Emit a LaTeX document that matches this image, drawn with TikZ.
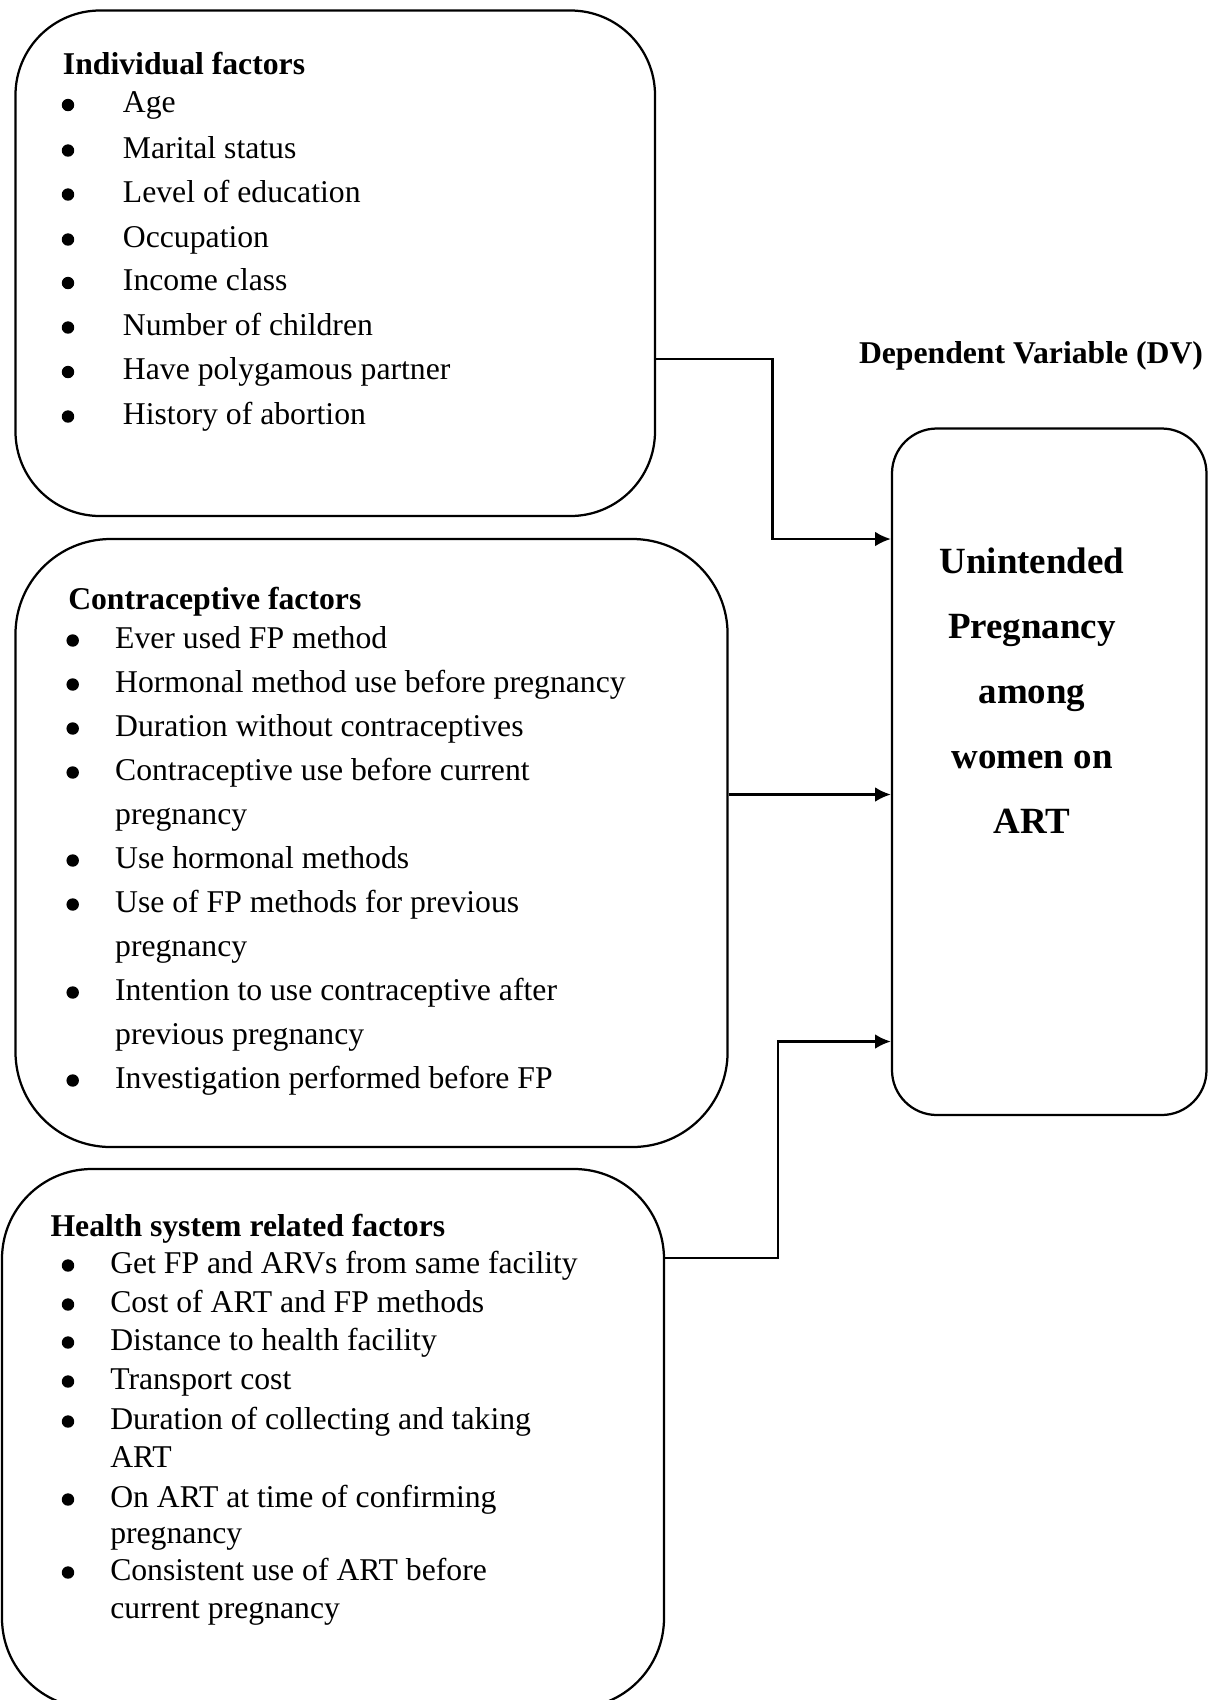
\documentclass[tikz,border=0pt]{standalone}
\usepackage{fontspec}
\setmainfont{Liberation Serif}
\usetikzlibrary{arrows.meta,fit}

\tikzset{
  factorbox/.style={draw, line width=0.85pt, rounded corners=#1, inner sep=0pt},
  txt/.style={anchor=base west, inner sep=0pt, font=\fontsize{12}{14}\selectfont},
  headtxt/.style={txt, font=\bfseries\fontsize{12}{14}\selectfont},
  bull/.style={circle, fill, inner sep=0pt, minimum size=4.7pt},
  dvtxt/.style={anchor=base, inner sep=0pt, font=\bfseries\fontsize{14}{16}\selectfont}
}

\begin{document}
\begin{tikzpicture}[x=0.0133cm, y=-0.0133cm, >={Latex[length=6pt,width=5.6pt]}, line width=0.95pt]
\useasboundingbox (0,0) rectangle (1209,1700);

\node[factorbox=32pt, fit={(15.5,10.5) (655,516)}] (indiv) {};
\node[headtxt] (indivhead) at (61.7,74) {Individual factors};
\node[bull] (ib1) at (68,105) {};
\node[txt] (i1) at (121.7,112.5) {Age};
\node[bull] (ib2) at (68,150.5) {};
\node[txt] (i2) at (121.7,158) {Marital status};
\node[bull] (ib3) at (68,194.5) {};
\node[txt] (i3) at (121.7,202) {Level of education};
\node[bull] (ib4) at (68,239.5) {};
\node[txt] (i4) at (121.7,247) {Occupation};
\node[bull] (ib5) at (68,283) {};
\node[txt] (i5) at (121.7,290.5) {Income class};
\node[bull] (ib6) at (68,327.5) {};
\node[txt] (i6) at (121.7,335) {Number of children};
\node[bull] (ib7) at (68,372) {};
\node[txt] (i7) at (121.7,379.5) {Have polygamous partner};
\node[bull] (ib8) at (68,416.5) {};
\node[txt] (i8) at (121.7,424) {History of abortion};

\node[factorbox=36pt, fit={(15.5,539) (727.6,1147)}] (contra) {};
\node[headtxt] (contrahead) at (67,609) {Contraceptive factors};
\node[bull] (cb1) at (72.7,640.5) {};
\node[txt] (c1) at (113.9,648) {Ever used FP method};
\node[bull] (cb2) at (72.7,684.5) {};
\node[txt] (c2) at (113.9,692) {Hormonal method use before pregnancy};
\node[bull] (cb3) at (72.7,728.5) {};
\node[txt] (c3) at (113.9,736) {Duration without contraceptives};
\node[bull] (cb4) at (72.7,772.5) {};
\node[txt] (c4) at (113.9,780) {Contraceptive use before current};
\node[txt] (c4b) at (113.9,824) {pregnancy};
\node[bull] (cb5) at (72.7,860.5) {};
\node[txt] (c5) at (113.9,868) {Use hormonal methods};
\node[bull] (cb6) at (72.7,904.5) {};
\node[txt] (c6) at (113.9,912) {Use of FP methods for previous};
\node[txt] (c6b) at (113.9,956) {pregnancy};
\node[bull] (cb7) at (72.7,992.5) {};
\node[txt] (c7) at (113.9,1000) {Intention to use contraceptive after};
\node[txt] (c7b) at (113.9,1044) {previous pregnancy};
\node[bull] (cb8) at (72.7,1080.5) {};
\node[txt] (c8) at (113.9,1088) {Investigation performed before FP};

\node[factorbox=34pt, fit={(2,1169) (664,1708)}] (health) {};
\node[headtxt] (healthhead) at (49.3,1236) {Health system related factors};
\node[bull] (hb1) at (68,1265.5) {};
\node[txt] (h1) at (109,1273) {Get FP and ARVs from same facility};
\node[bull] (hb2) at (68,1304.5) {};
\node[txt] (h2) at (109,1312) {Cost of ART and FP methods};
\node[bull] (hb3) at (68,1342.5) {};
\node[txt] (h3) at (109,1350) {Distance to health facility};
\node[bull] (hb4) at (68,1381.5) {};
\node[txt] (h4) at (109,1389) {Transport cost};
\node[bull] (hb5) at (68,1421.5) {};
\node[txt] (h5) at (109,1429) {Duration of collecting and taking};
\node[txt] (h5b) at (109,1467) {ART};
\node[bull] (hb6) at (68,1499.5) {};
\node[txt] (h6) at (109,1507) {On ART at time of confirming};
\node[txt] (h6b) at (109,1543) {pregnancy};
\node[bull] (hb7) at (68,1572.5) {};
\node[txt] (h7) at (109,1580) {Consistent use of ART before};
\node[txt] (h7b) at (109,1618) {current pregnancy};

\node[anchor=base, inner sep=0pt, font=\bfseries\fontsize{12}{14}\selectfont] (dvhead) at (1031,363) {Dependent Variable (DV)};
\node[factorbox=17pt, fit={(892,428.5) (1206.5,1115)}] (dv) {};
\node[dvtxt] (dv1) at (1032,573) {Unintended};
\node[dvtxt] (dv2) at (1032,638) {Pregnancy};
\node[dvtxt] (dv3) at (1032,703) {among};
\node[dvtxt] (dv4) at (1032,768) {women on};
\node[dvtxt] (dv5) at (1032,833) {ART};

\coordinate (a1) at (772.5,359);
\coordinate (a1e) at (772.5,539);
\draw[->] (indiv.east |- a1) -- (a1) -- (a1e) -- (dv.west |- a1e);

\coordinate (a2) at (800,794.5);
\draw[->] (contra.east |- a2) -- (dv.west |- a2);

\coordinate (a3) at (778,1258);
\coordinate (a3e) at (778,1041.5);
\draw[->] (health.east |- a3) -- (a3) -- (a3e) -- (dv.west |- a3e);

\end{tikzpicture}
\end{document}
